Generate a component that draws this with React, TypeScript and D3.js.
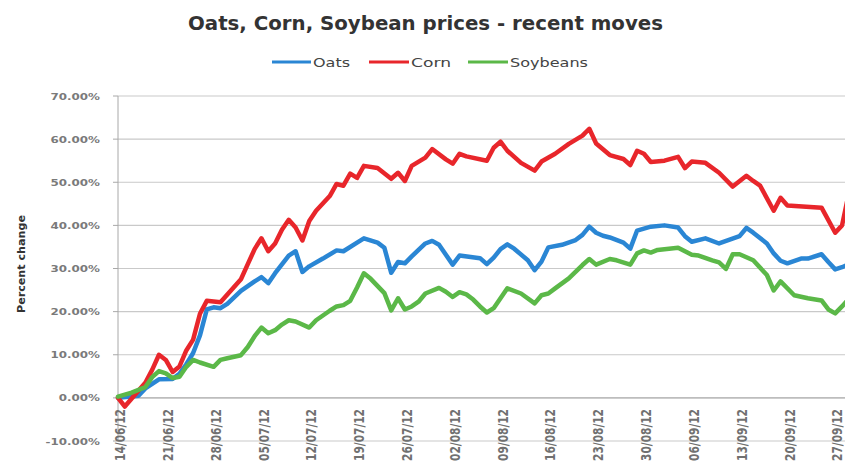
import React from "react";
import * as d3 from "d3";

const chartTitle = "Oats, Corn, Soybean prices - recent moves";
const yAxisTitle = "Percent change";
const seriesNames = ["Oats", "Corn", "Soybeans"];
const yTicks = [-10, 0, 10, 20, 30, 40, 50, 60, 70];
const xTickDates = [
  "2012-06-14", "2012-06-21", "2012-06-28", "2012-07-05", "2012-07-12", "2012-07-19",
  "2012-07-26", "2012-08-02", "2012-08-09", "2012-08-16", "2012-08-23", "2012-08-30",
  "2012-09-06", "2012-09-13", "2012-09-20", "2012-09-27",
];

const oatsData: [string, number][] = [
  ["2012-06-14", 0], ["2012-06-17", 0.5], ["2012-06-18", 2.2], ["2012-06-20", 4.3], ["2012-06-22", 4.4],
  ["2012-06-23", 5.6], ["2012-06-24", 7.8], ["2012-06-25", 10.4], ["2012-06-26", 14.5], ["2012-06-27", 20.5],
  ["2012-06-28", 21], ["2012-06-29", 20.8], ["2012-06-30", 21.8], ["2012-07-02", 24.8], ["2012-07-04", 27],
  ["2012-07-05", 28], ["2012-07-06", 26.6], ["2012-07-07", 28.9], ["2012-07-09", 33], ["2012-07-10", 34],
  ["2012-07-11", 29.2], ["2012-07-12", 30.5], ["2012-07-14", 32.3], ["2012-07-16", 34.2], ["2012-07-17", 34],
  ["2012-07-19", 36], ["2012-07-20", 37], ["2012-07-22", 36], ["2012-07-23", 34.8], ["2012-07-24", 29],
  ["2012-07-25", 31.5], ["2012-07-26", 31.2], ["2012-07-27", 32.8], ["2012-07-28", 34.3], ["2012-07-29", 35.8],
  ["2012-07-30", 36.4], ["2012-07-31", 35.5], ["2012-08-02", 30.9], ["2012-08-03", 33], ["2012-08-06", 32.4],
  ["2012-08-07", 31], ["2012-08-08", 32.5], ["2012-08-09", 34.5], ["2012-08-10", 35.6], ["2012-08-11", 34.6],
  ["2012-08-13", 31.9], ["2012-08-14", 29.6], ["2012-08-15", 31.6], ["2012-08-16", 34.9], ["2012-08-18", 35.5],
  ["2012-08-20", 36.6], ["2012-08-21", 37.8], ["2012-08-22", 39.7], ["2012-08-23", 38.3], ["2012-08-24", 37.6],
  ["2012-08-25", 37.2], ["2012-08-27", 36], ["2012-08-28", 34.6], ["2012-08-29", 38.8], ["2012-08-31", 39.7],
  ["2012-09-02", 40], ["2012-09-04", 39.5], ["2012-09-05", 37.5], ["2012-09-06", 36.2], ["2012-09-08", 37],
  ["2012-09-10", 35.8], ["2012-09-13", 37.5], ["2012-09-14", 39.4], ["2012-09-15", 38.3], ["2012-09-17", 35.8],
  ["2012-09-18", 33.5], ["2012-09-19", 31.8], ["2012-09-20", 31.2], ["2012-09-22", 32.3], ["2012-09-23", 32.3],
  ["2012-09-25", 33.3], ["2012-09-26", 31.5], ["2012-09-27", 29.8], ["2012-09-28", 30.3], ["2012-09-29", 31],
];

const cornData: [string, number][] = [
  ["2012-06-14", 0], ["2012-06-15", -2], ["2012-06-18", 3.5], ["2012-06-19", 6.5], ["2012-06-20", 10],
  ["2012-06-21", 8.8], ["2012-06-22", 6], ["2012-06-23", 7.3], ["2012-06-24", 11], ["2012-06-25", 13.5],
  ["2012-06-26", 19.5], ["2012-06-27", 22.5], ["2012-06-29", 22.2], ["2012-07-02", 27.5], ["2012-07-03", 31],
  ["2012-07-04", 34.5], ["2012-07-05", 37], ["2012-07-06", 34], ["2012-07-07", 35.8], ["2012-07-08", 39],
  ["2012-07-09", 41.3], ["2012-07-10", 39.5], ["2012-07-11", 36.5], ["2012-07-12", 41], ["2012-07-13", 43.4],
  ["2012-07-15", 46.8], ["2012-07-16", 49.6], ["2012-07-17", 49.2], ["2012-07-18", 52], ["2012-07-19", 51],
  ["2012-07-20", 53.8], ["2012-07-22", 53.3], ["2012-07-24", 50.8], ["2012-07-25", 52.2], ["2012-07-26", 50.3],
  ["2012-07-27", 53.8], ["2012-07-29", 55.7], ["2012-07-30", 57.7], ["2012-08-01", 55.3], ["2012-08-02", 54.3],
  ["2012-08-03", 56.6], ["2012-08-04", 56], ["2012-08-07", 55], ["2012-08-08", 58], ["2012-08-09", 59.4],
  ["2012-08-10", 57.3], ["2012-08-12", 54.5], ["2012-08-14", 52.7], ["2012-08-15", 54.8], ["2012-08-17", 56.6],
  ["2012-08-19", 58.9], ["2012-08-21", 60.8], ["2012-08-22", 62.4], ["2012-08-23", 59], ["2012-08-25", 56.3],
  ["2012-08-27", 55.4], ["2012-08-28", 54], ["2012-08-29", 57.3], ["2012-08-30", 56.6], ["2012-08-31", 54.7],
  ["2012-09-02", 55], ["2012-09-04", 55.9], ["2012-09-05", 53.3], ["2012-09-06", 54.8], ["2012-09-08", 54.5],
  ["2012-09-10", 52.2], ["2012-09-12", 49], ["2012-09-14", 51.5], ["2012-09-15", 50.3], ["2012-09-16", 49.2],
  ["2012-09-18", 43.4], ["2012-09-19", 46.4], ["2012-09-20", 44.6], ["2012-09-25", 44.1], ["2012-09-27", 38.3],
  ["2012-09-28", 40], ["2012-09-29", 47.5],
];

const soyData: [string, number][] = [
  ["2012-06-14", 0.3], ["2012-06-16", 1.2], ["2012-06-18", 2.5], ["2012-06-19", 4.8], ["2012-06-20", 6.2],
  ["2012-06-21", 5.7], ["2012-06-22", 4.6], ["2012-06-23", 4.9], ["2012-06-24", 7.2], ["2012-06-25", 8.8],
  ["2012-06-26", 8.2], ["2012-06-28", 7.2], ["2012-06-29", 8.8], ["2012-06-30", 9.2], ["2012-07-02", 9.9],
  ["2012-07-03", 11.8], ["2012-07-04", 14.3], ["2012-07-05", 16.3], ["2012-07-06", 15], ["2012-07-07", 15.7],
  ["2012-07-08", 17], ["2012-07-09", 18], ["2012-07-10", 17.7], ["2012-07-12", 16.3], ["2012-07-13", 18],
  ["2012-07-15", 20.2], ["2012-07-16", 21.2], ["2012-07-17", 21.5], ["2012-07-18", 22.5], ["2012-07-19", 25.6],
  ["2012-07-20", 28.9], ["2012-07-21", 27.6], ["2012-07-23", 24.3], ["2012-07-24", 20.3], ["2012-07-25", 23.1],
  ["2012-07-26", 20.5], ["2012-07-27", 21.2], ["2012-07-28", 22.3], ["2012-07-29", 24.2], ["2012-07-31", 25.5],
  ["2012-08-01", 24.6], ["2012-08-02", 23.4], ["2012-08-03", 24.5], ["2012-08-04", 24], ["2012-08-05", 22.8],
  ["2012-08-06", 21.2], ["2012-08-07", 19.8], ["2012-08-08", 20.8], ["2012-08-10", 25.4], ["2012-08-12", 24.2],
  ["2012-08-14", 21.9], ["2012-08-15", 23.8], ["2012-08-16", 24.2], ["2012-08-17", 25.4], ["2012-08-19", 27.7],
  ["2012-08-21", 30.8], ["2012-08-22", 32.2], ["2012-08-23", 30.9], ["2012-08-25", 32.2], ["2012-08-26", 31.9],
  ["2012-08-28", 30.9], ["2012-08-29", 33.5], ["2012-08-30", 34.2], ["2012-08-31", 33.7], ["2012-09-01", 34.3],
  ["2012-09-04", 34.8], ["2012-09-05", 34], ["2012-09-06", 33.2], ["2012-09-07", 33], ["2012-09-09", 31.9],
  ["2012-09-10", 31.4], ["2012-09-11", 29.9], ["2012-09-12", 33.3], ["2012-09-13", 33.3], ["2012-09-15", 31.9],
  ["2012-09-17", 28.5], ["2012-09-18", 24.9], ["2012-09-19", 27], ["2012-09-21", 23.8], ["2012-09-23", 23.1],
  ["2012-09-25", 22.6], ["2012-09-26", 20.5], ["2012-09-27", 19.6], ["2012-09-28", 21.2], ["2012-09-29", 23],
];

const W = 845;
const H = 465;
const COLORS = ["#2a86d4", "#e8262b", "#5bb848"];
const LEGEND = [
  { x1: 272, x2: 311, tx: 313, tw: 37 },
  { x1: 369, x2: 409, tx: 411, tw: 40 },
  { x1: 468, x2: 508, tx: 510, tw: 78 },
];
const FONT = "'DejaVu Sans', Verdana, sans-serif";

export default function App() {
  const parse = d3.timeParse("%Y-%m-%d");
  const first = parse(xTickDates[0]) as Date;
  const last = parse(xTickDates[xTickDates.length - 1]) as Date;
  const x = d3.scaleTime().domain([first, last]).range([118, 835.2]);
  const y = d3.scaleLinear().domain([-10, 70]).range([441, 96]);
  const line = d3
    .line<[string, number]>()
    .x((d) => x(parse(d[0]) as Date))
    .y((d) => y(d[1]));
  const fmtDate = d3.timeFormat("%d/%m/%y");
  const series = [oatsData, cornData, soyData];
  const plotLeft = x.range()[0];

  return (
    <svg
      width={W}
      height={H}
      style={{ position: "absolute", left: 0, top: 0, background: "#fff" }}
      fontFamily={FONT}
    >
      <rect x={0} y={0} width={W} height={H} fill="#fff" />
      {/* gridlines */}
      {yTicks.map((t) => (
        <g key={t}>
          <line x1={plotLeft} x2={W} y1={y(t)} y2={y(t)} stroke="#c9c9c9" strokeWidth={1.2} />
          <line x1={plotLeft - 5} x2={plotLeft} y1={y(t)} y2={y(t)} stroke="#a8a8a8" strokeWidth={1} />
          <text
            transform={`translate(100, ${y(t) + 3.5}) scale(1.25, 1)`}
            textAnchor="end"
            fontSize={9.5}
            fontWeight="bold"
            fill="#7a7a7a"
          >
            {t.toFixed(2) + "%"}
          </text>
        </g>
      ))}
      <line x1={plotLeft} x2={plotLeft} y1={y(70)} y2={y(-10)} stroke="#a8a8a8" strokeWidth={1} />
      <line x1={plotLeft} x2={W} y1={y(0)} y2={y(0)} stroke="#b5b5b5" strokeWidth={1.2} />

      {/* x tick labels */}
      {xTickDates.map((d) => {
        const px = x(parse(d) as Date);
        return (
          <text
            key={d}
            transform={`translate(${px + 2.5}, 409) rotate(-90) scale(1, 1.25)`}
            textAnchor="end"
            dy="0.35em"
            fontSize={10.6}
            fontWeight="bold"
            fill="#707070"
          >
            {fmtDate(parse(d) as Date)}
          </text>
        );
      })}

      {/* series lines */}
      {series.map((s, i) => (
        <path
          key={seriesNames[i]}
          d={line(s) || ""}
          fill="none"
          stroke={COLORS[i]}
          strokeWidth={4.5}
          strokeLinejoin="round"
          strokeLinecap="round"
        />
      ))}

      {/* title */}
      <text
        x={188}
        y={30}
        fontSize={20}
        fontWeight="bold"
        fill="#333"
        textLength={475}
        lengthAdjust="spacingAndGlyphs"
      >
        {chartTitle}
      </text>

      {/* legend */}
      {seriesNames.map((n, i) => (
        <g key={n}>
          <line x1={LEGEND[i].x1} x2={LEGEND[i].x2} y1={62} y2={62} stroke={COLORS[i]} strokeWidth={3} />
          <text
            x={LEGEND[i].tx}
            y={66.5}
            fontSize={12}
            fill="#444"
            textLength={LEGEND[i].tw}
            lengthAdjust="spacingAndGlyphs"
          >
            {n}
          </text>
        </g>
      ))}

      {/* y axis title */}
      <text
        transform={`translate(25, 264) rotate(-90)`}
        textAnchor="middle"
        fontSize={10.6}
        fontWeight="bold"
        fill="#333"
        textLength={98}
        lengthAdjust="spacingAndGlyphs"
      >
        {yAxisTitle}
      </text>
    </svg>
  );
}
